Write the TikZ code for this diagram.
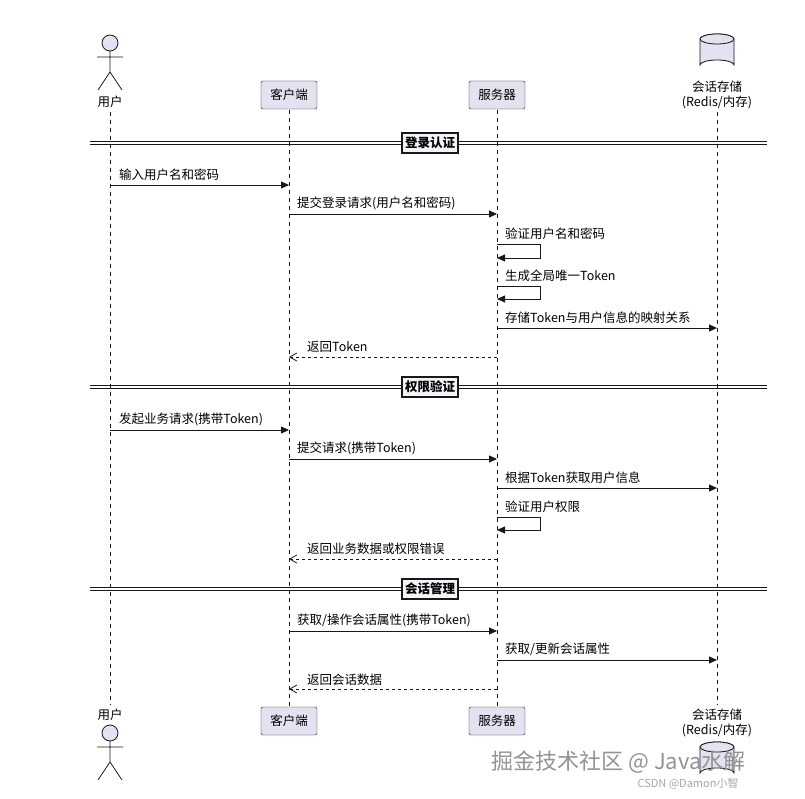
\documentclass[tikz,border=0pt]{standalone}
\usepackage{fontspec}
\setmainfont{Noto Sans CJK SC}
\usetikzlibrary{arrows.meta}
\definecolor{pfill}{HTML}{E2E2F0}
\definecolor{pline}{HTML}{181818}
\tikzset{
  part/.style={draw=pline,fill=pfill,rounded corners=2pt,minimum width=56pt,minimum height=28pt,font=\fontsize{12.5}{14}\selectfont,inner sep=3pt},
  life/.style={draw=pline,dashed,dash pattern=on 4pt off 4pt,line width=0.5pt},
  msg/.style={draw=pline,line width=0.8pt,-{Triangle[length=8pt,width=7pt]}},
  ret/.style={draw=pline,line width=0.8pt,dashed,dash pattern=on 3pt off 3pt,-{Straight Barb[length=7pt,width=8pt]}},
  lbl/.style={anchor=south west,font=\fontsize{12.5}{14}\selectfont,inner sep=1pt},
  divbox/.style={draw=pline,fill=pfill!40,line width=1.2pt,font=\bfseries\fontsize{12.5}{14}\selectfont,inner sep=3pt,minimum height=20pt},
  actorst/.style={draw=pline,line width=0.8pt}
}
\newcommand{\dbcyl}[2]{% center x, top y
  \draw[pline,line width=0.8pt,fill=pfill] (#1-17,#2) -- (#1-17,#2+26) arc[start angle=180,end angle=360,x radius=17,y radius=5] -- (#1+17,#2) arc[start angle=0,end angle=-180,x radius=17,y radius=5] -- cycle;
  \draw[pline,line width=0.8pt,fill=pfill] (#1,#2) ellipse[x radius=17,y radius=5];
}
\begin{document}
\begin{tikzpicture}[x=1pt,y=-1pt]
\useasboundingbox (0,0) rectangle (805,799);
\fill[white] (0,0) rectangle (805,799);
% lifelines
\coordinate (uT) at (110,112); \coordinate (uB) at (110,705);
\coordinate (cT) at (289,110); \coordinate (cB) at (289,706);
\coordinate (sT) at (497,110); \coordinate (sB) at (497,706);
\coordinate (dT) at (717,112); \coordinate (dB) at (717,705);
\draw[life] (uT)--(uB); \draw[life] (cT)--(cB); \draw[life] (sT)--(sB); \draw[life] (dT)--(dB);
% top participants
\draw[actorst,fill=pfill] (110,43) circle (8);
\draw[actorst] (110,51)--(110,72) (97,57)--(123,57) (110,72)--(98,90) (110,72)--(122,90);
\node[font=\fontsize{12.5}{14}\selectfont] (uTop) at (110,102) {用户};
\node[part] (cTop) at (289,95) {客户端};
\node[part] (sTop) at (497,95) {服务器};
\dbcyl{717}{39}
\node[font=\fontsize{12.5}{15}\selectfont,align=center] (dTop) at (717,95) {会话存储\\(Redis/内存)};
% bottom participants
\node[font=\fontsize{12.5}{14}\selectfont] (uBot) at (110,715) {用户};
\draw[actorst,fill=pfill] (110,733) circle (8);
\draw[actorst] (110,741)--(110,762) (97,747)--(123,747) (110,762)--(98,780) (110,762)--(122,780);
\node[part] (cBot) at (289,721) {客户端};
\node[part] (sBot) at (497,721) {服务器};
\node[font=\fontsize{12.5}{15}\selectfont,align=center] (dBot) at (717,723) {会话存储\\(Redis/内存)};
\dbcyl{717}{747}
% dividers
\foreach \y/\t/\n in {143/登录认证/d1,387/权限验证/d2,589/会话管理/d3}{
  \draw[pline,line width=0.8pt] (90,\y-1.5)--(767,\y-1.5) (90,\y+1.5)--(767,\y+1.5);
  \node[divbox] (\n) at (430,\y) {\t};
}
% messages
\coordinate (m1a) at (110,185); \coordinate (m1b) at (289,185);
\draw[msg] (m1a)--(m1b); \node[lbl] (l1) at (118,182) {输入用户名和密码};
\coordinate (m2a) at (289,214); \coordinate (m2b) at (497,214);
\draw[msg] (m2a)--(m2b); \node[lbl] (l2) at (296,211) {提交登录请求(用户名和密码)};
\coordinate (s1a) at (497,244); \coordinate (s1b) at (497,258);
\draw[msg] (s1a)--(540,244)--(540,258)--(s1b); \node[lbl] (l3) at (504,241) {验证用户名和密码};
\coordinate (s2a) at (497,286); \coordinate (s2b) at (497,299);
\draw[msg] (s2a)--(540,286)--(540,299)--(s2b); \node[lbl] (l4) at (504,283) {生成全局唯一Token};
\coordinate (m3a) at (497,328); \coordinate (m3b) at (717,328);
\draw[msg] (m3a)--(m3b); \node[lbl] (l5) at (504,325) {存储Token与用户信息的映射关系};
\coordinate (m4a) at (497,357); \coordinate (m4b) at (289,357);
\draw[ret] (m4a)--(m4b); \node[lbl] (l6) at (306,354) {返回Token};
\coordinate (m5a) at (110,430); \coordinate (m5b) at (289,430);
\draw[msg] (m5a)--(m5b); \node[lbl] (l7) at (118,427) {发起业务请求(携带Token)};
\coordinate (m6a) at (289,459); \coordinate (m6b) at (497,459);
\draw[msg] (m6a)--(m6b); \node[lbl] (l8) at (296,456) {提交请求(携带Token)};
\coordinate (m7a) at (497,488); \coordinate (m7b) at (717,488);
\draw[msg] (m7a)--(m7b); \node[lbl] (l9) at (504,485) {根据Token获取用户信息};
\coordinate (s3a) at (497,517); \coordinate (s3b) at (497,530);
\draw[msg] (s3a)--(540,517)--(540,530)--(s3b); \node[lbl] (l10) at (504,514) {验证用户权限};
\coordinate (m8a) at (497,559); \coordinate (m8b) at (289,559);
\draw[ret] (m8a)--(m8b); \node[lbl] (l11) at (306,556) {返回业务数据或权限错误};
\coordinate (m9a) at (289,631); \coordinate (m9b) at (497,631);
\draw[msg] (m9a)--(m9b); \node[lbl] (l12) at (296,628) {获取/操作会话属性(携带Token)};
\coordinate (m10a) at (497,660); \coordinate (m10b) at (717,660);
\draw[msg] (m10a)--(m10b); \node[lbl] (l13) at (504,657) {获取/更新会话属性};
\coordinate (m11a) at (497,689); \coordinate (m11b) at (289,689);
\draw[ret] (m11a)--(m11b); \node[lbl] (l14) at (306,687) {返回会话数据};
% watermarks
\node[text=gray!85,font=\fontsize{22}{24}\selectfont,anchor=west] (wm1) at (488,762) {掘金技术社区 @ Java水解};
\node[text=gray!70,font=\fontsize{11}{12}\selectfont,anchor=west] (wm2) at (634,784) {CSDN @Damon小智};
\end{tikzpicture}
\end{document}
